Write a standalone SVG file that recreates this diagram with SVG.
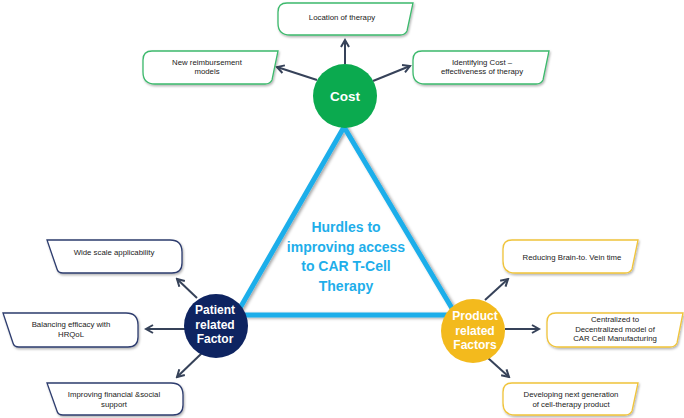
<svg xmlns="http://www.w3.org/2000/svg" width="684" height="418" viewBox="0 0 684 418">
<defs>
  <filter id="sh" x="-10%" y="-20%" width="120%" height="150%">
    <feDropShadow dx="1" dy="1.5" stdDeviation="1.2" flood-color="#000" flood-opacity="0.3"/>
  </filter>
  <filter id="tsh" x="-10%" y="-10%" width="130%" height="130%">
    <feDropShadow dx="2" dy="1" stdDeviation="1.5" flood-color="#000" flood-opacity="0.35"/>
  </filter>
  <marker id="ah" markerWidth="10" markerHeight="10" refX="8" refY="5" orient="auto" markerUnits="userSpaceOnUse">
    <path d="M1,1 L8,5 L1,9" fill="none" stroke="#364259" stroke-width="2" stroke-linejoin="miter"/>
  </marker>
</defs>
<style>
  .box { fill: #ffffff; stroke-width: 1.3; filter: url(#sh); }
  .cost { stroke: #3cb96c; }
  .pat { stroke: #2d3c6e; }
  .prod { stroke: #f0c43a; }
  .bt { font-family: "Liberation Sans", Arial, sans-serif; font-size: 7.8px; fill: #222; text-anchor: middle; }
  .ct { font-family: "Liberation Sans", Arial, sans-serif; font-weight: bold; fill: #ffffff; text-anchor: middle; }
  .arr { stroke: #364259; stroke-width: 2; fill: none; marker-end: url(#ah); }
  .mid { font-family: "Liberation Sans", Arial, sans-serif; font-weight: bold; font-size: 14px; fill: #1eaeea; text-anchor: middle; }
</style>
<rect width="684" height="418" fill="#ffffff"/>

<g id="triangle">
  <path d="M344,127 L236,315 L456,315 Z" fill="none" stroke="#1eaeea" stroke-width="5" stroke-linejoin="miter" filter="url(#tsh)"/>
  <text class="mid" x="346" y="232">Hurdles to</text>
  <text class="mid" x="346" y="251.5">improving access</text>
  <text class="mid" x="346" y="271">to CAR T-Cell</text>
  <text class="mid" x="346" y="290.5">Therapy</text>
</g>

<g id="connectors">
  <line class="arr" x1="345" y1="64" x2="345" y2="40"/>
  <line class="arr" x1="317" y1="80" x2="277" y2="67"/>
  <line class="arr" x1="373" y1="81" x2="410" y2="66"/>
  <line class="arr" x1="197" y1="298" x2="177" y2="279"/>
  <line class="arr" x1="185" y1="329" x2="146" y2="329"/>
  <line class="arr" x1="202" y1="353" x2="177" y2="377"/>
  <line class="arr" x1="485" y1="300" x2="508" y2="279"/>
  <line class="arr" x1="505" y1="329" x2="539" y2="329"/>
  <line class="arr" x1="488" y1="358" x2="509" y2="377"/>
</g>

<g id="cost">
  <circle cx="345" cy="96" r="32" fill="#0baa4f"/>
  <text class="ct" x="345" y="100.5" font-size="13.5">Cost</text>
</g>
<g id="patient">
  <circle cx="216" cy="326" r="32" fill="#0e2461"/>
  <text class="ct" x="215" y="313.5" font-size="12">Patient</text>
  <text class="ct" x="215" y="328.5" font-size="12">related</text>
  <text class="ct" x="215" y="343" font-size="12">Factor</text>
</g>
<g id="product">
  <circle cx="473" cy="331" r="32" fill="#f3ba1d"/>
  <text class="ct" x="475" y="319.5" font-size="12">Product</text>
  <text class="ct" x="475" y="334.5" font-size="12">related</text>
  <text class="ct" x="475" y="349" font-size="12">Factors</text>
</g>

<g id="location">
  <path class="box cost" d="M287,3 L413,3 L407,31 Q405,35 400,35 L290,35 Q278,35 278,23 L278,12 Q278,3 287,3 Z"/>
  <text class="bt" x="342" y="20">Location of therapy</text>
</g>
<g id="reimbursement">
  <path class="box cost" d="M152,51 L278,51 L272,80 Q270,84 265,84 L155,84 Q143,84 143,72 L143,60 Q143,51 152,51 Z"/>
  <text class="bt" x="207" y="64.5">New reimbursement</text>
  <text class="bt" x="207" y="74">models</text>
</g>
<g id="identifying">
  <path class="box cost" d="M422,51 L549,51 L543,80 Q541,84 536,84 L425,84 Q413,84 413,72 L413,60 Q413,51 422,51 Z"/>
  <text class="bt" x="482" y="64.5">Identifying Cost –</text>
  <text class="bt" x="482" y="74">effectiveness of therapy</text>
</g>

<g id="wide-scale">
  <path class="box pat" d="M47,240 L170,240 Q182,240 182,252 L182,263 Q182,273 172,273 L63,273 Q58,273 57,269 Z"/>
  <text class="bt" x="114" y="255">Wide scale applicability</text>
</g>
<g id="balancing">
  <path class="box pat" d="M3,313 L126,313 Q138,313 138,325 L138,337 Q138,347 128,347 L19,347 Q14,347 13,343 Z"/>
  <text class="bt" x="71" y="327">Balancing efficacy with</text>
  <text class="bt" x="71" y="336.5">HRQoL</text>
</g>
<g id="financial">
  <path class="box pat" d="M47,383 L171,383 Q183,383 183,395 L183,405 Q183,415 173,415 L63,415 Q58,415 57,411 Z"/>
  <text class="bt" x="114" y="397">Improving financial &amp;social</text>
  <text class="bt" x="114" y="406.5">support</text>
</g>

<g id="brain-to-vein">
  <path class="box prod" d="M512,240 L638,240 L632,269 Q630,273 625,273 L515,273 Q503,273 503,261 L503,249 Q503,240 512,240 Z"/>
  <text class="bt" x="572" y="259.5">Reducing Brain-to. Vein time</text>
</g>
<g id="centralized">
  <path class="box prod" d="M556,313 L683,313 L677,343 Q675,347 670,347 L559,347 Q547,347 547,335 L547,322 Q547,313 556,313 Z"/>
  <text class="bt" x="615" y="322">Centralized to</text>
  <text class="bt" x="615" y="331.5">Decentralized model of</text>
  <text class="bt" x="615" y="341">CAR Cell Manufacturing</text>
</g>
<g id="next-generation">
  <path class="box prod" d="M512,383 L638,383 L632,411 Q630,415 625,415 L515,415 Q503,415 503,403 L503,392 Q503,383 512,383 Z"/>
  <text class="bt" x="571" y="397">Developing next generation</text>
  <text class="bt" x="571" y="406.5">of cell-therapy product</text>
</g>
</svg>
